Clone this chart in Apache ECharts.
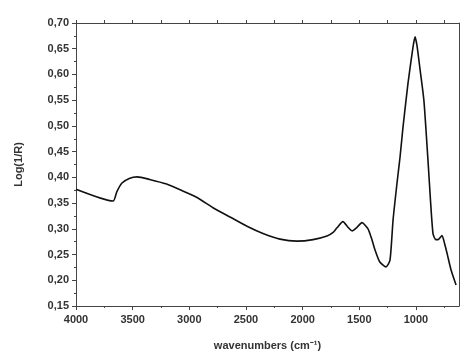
<!DOCTYPE html>
<html>
<head>
<meta charset="utf-8">
<script src="https://cdn.jsdelivr.net/npm/echarts@6/dist/echarts.min.js"></script>
<style>
  html, body { margin: 0; padding: 0; background: #fff; }
  #chart { width: 461px; height: 359px; }
</style>
</head>
<body>
<div id="chart"></div>
<script>
// spectrum (wavenumber cm-1, Log(1/R))
const wavenumbers = [4000, 3673, 3640, 3594, 3530, 3460, 3350, 3200, 3082, 2932, 2791, 2641,
  2491, 2350, 2200, 2050, 1908, 1785, 1731, 1697, 1644, 1600, 1564, 1520, 1476, 1423, 1390, 1361,
  1320, 1264, 1229, 1202, 1167, 1140, 1114, 1070, 1026, 1008, 990, 965, 930, 894, 870, 849, 825,
  805, 770, 748, 726, 690, 646];
const logR = [0.377, 0.354, 0.372, 0.389, 0.398, 0.401, 0.396, 0.387, 0.376, 0.361, 0.341, 0.323,
  0.305, 0.291, 0.280, 0.276, 0.279, 0.286, 0.293, 0.302, 0.314, 0.303, 0.296, 0.303, 0.312, 0.300, 0.280, 0.259,
  0.236, 0.226, 0.239, 0.317, 0.389, 0.440, 0.498, 0.583, 0.653, 0.673, 0.655, 0.612, 0.550, 0.434, 0.350, 0.290, 0.279,
  0.279, 0.287, 0.272, 0.253, 0.220, 0.191];

const xLabels = [1000, 1500, 2000, 2500, 3000, 3500, 4000];
const xMinor = [750, 1250, 1750, 2250, 2750, 3250, 3750];

const chart = echarts.init(document.getElementById('chart'));

const axisColor = '#444';
const labelFont = { color: '#333', fontSize: 11, fontWeight: 'bold', fontFamily: 'Liberation Sans, Arial' };

const xCommon = {
  type: 'value',
  min: 620,
  max: 4000,
  inverse: true,
  splitLine: { show: false },
};

const option = {
  animation: false,
  backgroundColor: '#fff',
  grid: { left: 76, right: 2, top: 23, bottom: 53 },
  xAxis: [
    {
      ...xCommon,
      position: 'bottom',
      name: 'wavenumbers (cm\u207B\u00B9)',
      nameLocation: 'middle',
      nameGap: 34,
      nameTextStyle: labelFont,
      axisLine: { lineStyle: { color: axisColor, width: 1 } },
      axisTick: { customValues: xLabels, length: 4, lineStyle: { color: axisColor } },
      axisLabel: { customValues: xLabels, margin: 8, ...labelFont, formatter: (v) => String(v) },
    },
    {
      ...xCommon,
      position: 'bottom',
      axisLine: { show: false },
      axisTick: { customValues: xMinor, length: 2, lineStyle: { color: axisColor } },
      axisLabel: { show: false },
    },
    {
      ...xCommon,
      position: 'top',
      axisLine: { onZero: false, lineStyle: { color: axisColor, width: 1 } },
      axisTick: { customValues: xLabels.concat(xMinor), length: 3, lineStyle: { color: axisColor } },
      axisLabel: { show: false },
    },
  ],
  yAxis: [
    {
      type: 'value',
      min: 0.15,
      max: 0.70,
      interval: 0.05,
      position: 'left',
      name: 'Log(1/R)',
      nameLocation: 'middle',
      nameGap: 52,
      nameTextStyle: labelFont,
      axisLine: { show: true, lineStyle: { color: axisColor, width: 1 } },
      axisTick: { show: true, length: 4, lineStyle: { color: axisColor } },
      minorTick: { show: true, splitNumber: 2, length: 2, lineStyle: { color: axisColor } },
      splitLine: { show: false },
      axisLabel: {
        margin: 7,
        ...labelFont,
        formatter: (v) => v.toFixed(2).replace('.', ','),
      },
    },
    {
      type: 'value',
      min: 0.15,
      max: 0.70,
      interval: 0.05,
      position: 'right',
      axisLine: { show: true, lineStyle: { color: axisColor, width: 1 } },
      axisTick: { show: false },
      axisLabel: { show: false },
      splitLine: { show: false },
    },
  ],
  series: [
    {
      type: 'line',
      xAxisIndex: 0,
      yAxisIndex: 0,
      data: wavenumbers.map((w, i) => [w, logR[i]]),
      showSymbol: false,
      smooth: 0.2,
      lineStyle: { color: '#111', width: 1.6 },
    },
  ],
};

chart.setOption(option);
</script>
</body>
</html>
